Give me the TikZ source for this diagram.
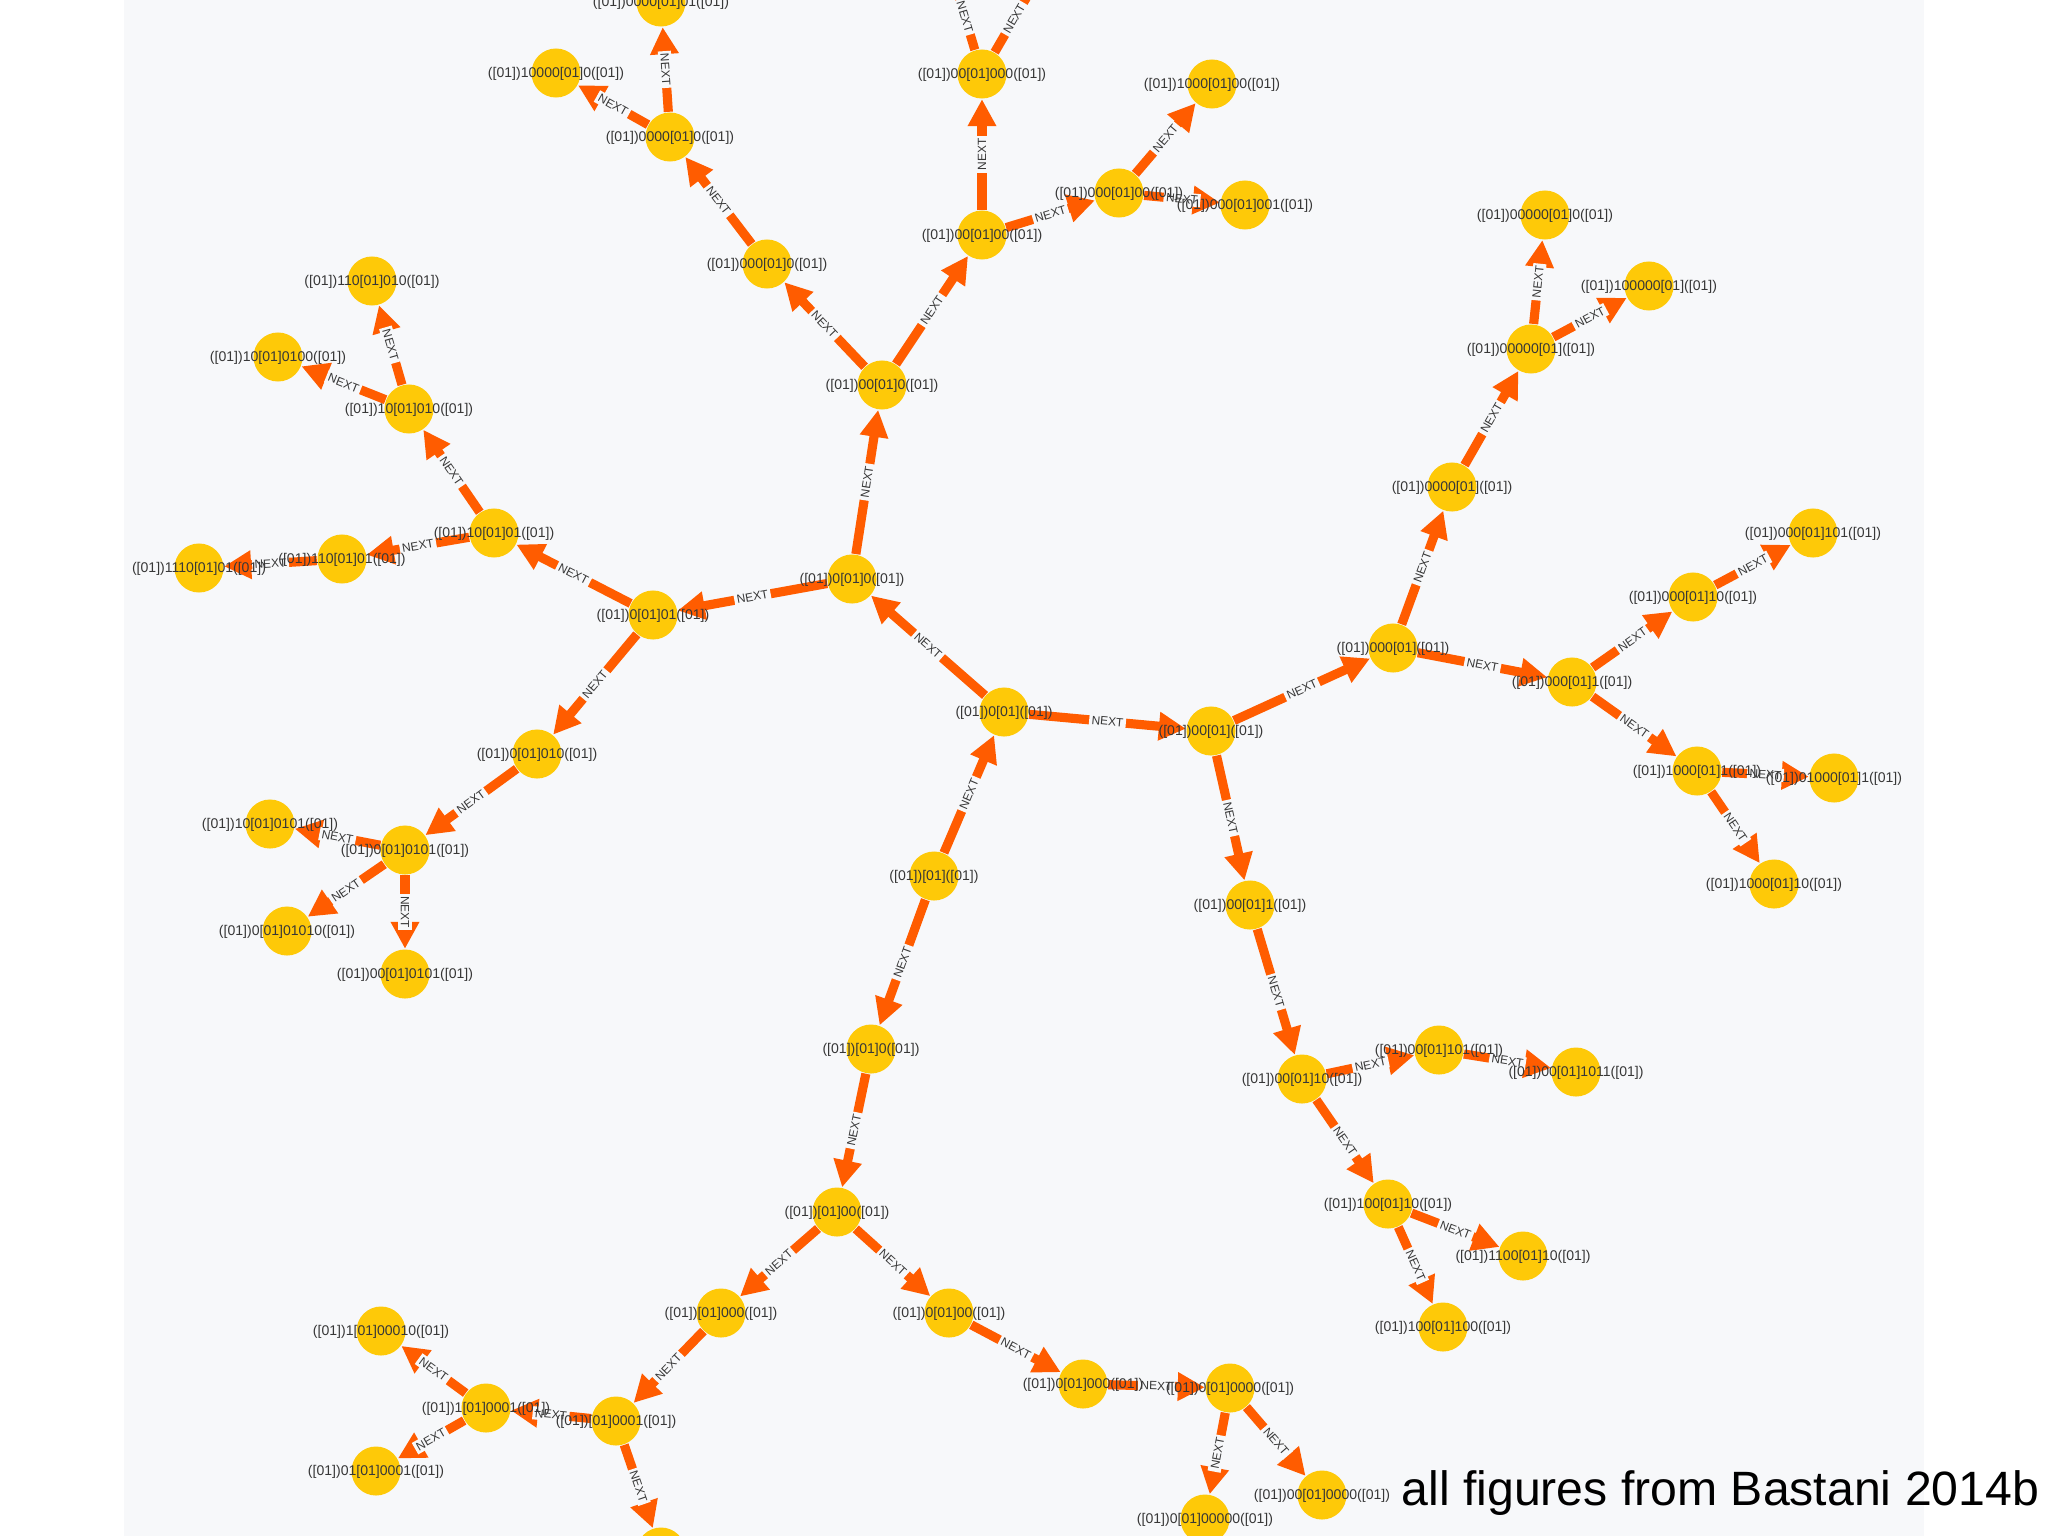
\documentclass[tikz,border=0pt]{standalone}
\usepackage{fontspec}
\setmainfont{Liberation Sans}
\usetikzlibrary{arrows.meta}
\definecolor{panel}{RGB}{247,248,250}
\definecolor{nxtorange}{RGB}{255,92,0}
\definecolor{vtxyellow}{RGB}{254,201,8}
\definecolor{lblgray}{RGB}{55,55,55}
\pgfdeclarelayer{bg}
\pgfsetlayers{bg,main}
\tikzset{
  vtx/.style={circle,fill=vtxyellow,minimum size=0.49cm,inner sep=0pt},
  lbl/.style={font=\fontsize{4}{4.5}\selectfont,text=lblgray,inner sep=0pt,yshift=-0.3pt},
  nx/.style={draw=nxtorange,line width=2.6pt,-{Triangle[length=2.7mm,width=2.7mm]}},
  nxt/.style={sloped,fill=panel,inner sep=0.7pt,font=\fontsize{3.4}{3.8}\selectfont,text=lblgray}
}
\begin{document}
\begin{tikzpicture}[x=0.01cm,y=-0.01cm]
        \useasboundingbox(0,0)rectangle(2048,1536);
        \begin{pgfonlayer}{bg}
        \fill[panel](124,0)rectangle(1924,1536);
        \end{pgfonlayer}
        \node[vtx,label={[lbl]center:{([01])0[01]([01])}}](c) at (1004,712){};
        \node[vtx,label={[lbl]center:{([01])00[01]([01])}}](r1) at (1211,731){};
        \node[vtx,label={[lbl]center:{([01])0[01]0([01])}}](l1) at (852,579){};
        \node[vtx,label={[lbl]center:{([01])[01]([01])}}](d1) at (934,876){};
        \node[vtx,label={[lbl]center:{([01])00[01]0([01])}}](u1) at (882,385){};
        \node[vtx,label={[lbl]center:{([01])00[01]00([01])}}](u2) at (982,235){};
        \node[vtx,label={[lbl]center:{([01])00[01]000([01])}}](u3) at (982,74){};
        \coordinate(u3a) at (942,-60);
        \coordinate(u3b) at (1060,-60);
        \node[vtx,label={[lbl]center:{([01])000[01]00([01])}}](ur1) at (1119,193){};
        \node[vtx,label={[lbl]center:{([01])1000[01]00([01])}}](ur2) at (1212,84){};
        \node[vtx,label={[lbl]center:{([01])000[01]001([01])}}](ur3) at (1245,205){};
        \node[vtx,label={[lbl]center:{([01])000[01]0([01])}}](ul1) at (767,264){};
        \node[vtx,label={[lbl]center:{([01])0000[01]0([01])}}](ul2) at (670,137){};
        \node[vtx,label={[lbl]center:{([01])10000[01]0([01])}}](ul3) at (556,73){};
        \node[vtx,label={[lbl]center:{([01])0000[01]01([01])}}](ul4) at (661,2){};
        \node[vtx,label={[lbl]center:{([01])0[01]01([01])}}](ll1) at (653,615){};
        \node[vtx,label={[lbl]center:{([01])10[01]01([01])}}](ll2) at (494,533){};
        \node[vtx,label={[lbl]center:{([01])10[01]010([01])}}](ll3) at (409,409){};
        \node[vtx,label={[lbl]center:{([01])110[01]010([01])}}](ll4) at (372,281){};
        \node[vtx,label={[lbl]center:{([01])10[01]0100([01])}}](ll5) at (278,357){};
        \node[vtx,label={[lbl]center:{([01])110[01]01([01])}}](ll6) at (342,559){};
        \node[vtx,label={[lbl]center:{([01])1110[01]01([01])}}](ll7) at (199,568){};
        \node[vtx,label={[lbl]center:{([01])0[01]010([01])}}](ll8) at (537,754){};
        \node[vtx,label={[lbl]center:{([01])0[01]0101([01])}}](ll9) at (405,850){};
        \node[vtx,label={[lbl]center:{([01])10[01]0101([01])}}](ll10) at (270,824){};
        \node[vtx,label={[lbl]center:{([01])0[01]01010([01])}}](ll11) at (287,931){};
        \node[vtx,label={[lbl]center:{([01])00[01]0101([01])}}](ll12) at (405,974){};
        \node[vtx,label={[lbl]center:{([01])000[01]([01])}}](ru1) at (1393,648){};
        \node[vtx,label={[lbl]center:{([01])0000[01]([01])}}](ru2) at (1452,487){};
        \node[vtx,label={[lbl]center:{([01])00000[01]([01])}}](ru3) at (1531,349){};
        \node[vtx,label={[lbl]center:{([01])00000[01]0([01])}}](ru4) at (1545,215){};
        \node[vtx,label={[lbl]center:{([01])100000[01]([01])}}](ru5) at (1649,286){};
        \node[vtx,label={[lbl]center:{([01])000[01]1([01])}}](rr1) at (1572,682){};
        \node[vtx,label={[lbl]center:{([01])000[01]10([01])}}](rr2) at (1693,597){};
        \node[vtx,label={[lbl]center:{([01])000[01]101([01])}}](rr3) at (1813,533){};
        \node[vtx,label={[lbl]center:{([01])1000[01]1([01])}}](rr4) at (1697,771){};
        \node[vtx,label={[lbl]center:{([01])01000[01]1([01])}}](rr5) at (1834,778){};
        \node[vtx,label={[lbl]center:{([01])1000[01]10([01])}}](rr6) at (1774,884){};
        \node[vtx,label={[lbl]center:{([01])00[01]1([01])}}](rd1) at (1250,905){};
        \node[vtx,label={[lbl]center:{([01])00[01]10([01])}}](rd2) at (1302,1079){};
        \node[vtx,label={[lbl]center:{([01])00[01]101([01])}}](rd3) at (1439,1050){};
        \node[vtx,label={[lbl]center:{([01])00[01]1011([01])}}](rd4) at (1576,1072){};
        \node[vtx,label={[lbl]center:{([01])100[01]10([01])}}](rd5) at (1388,1204){};
        \node[vtx,label={[lbl]center:{([01])1100[01]10([01])}}](rd6) at (1523,1256){};
        \node[vtx,label={[lbl]center:{([01])100[01]100([01])}}](rd7) at (1443,1327){};
        \node[vtx,label={[lbl]center:{([01])[01]0([01])}}](d2) at (871,1049){};
        \node[vtx,label={[lbl]center:{([01])[01]00([01])}}](d3) at (837,1212){};
        \node[vtx,label={[lbl]center:{([01])[01]000([01])}}](dl1) at (721,1313){};
        \node[vtx,label={[lbl]center:{([01])[01]0001([01])}}](dl2) at (616,1421){};
        \node[vtx,label={[lbl]center:{([01])1[01]0001([01])}}](dl3) at (486,1408){};
        \node[vtx,label={[lbl]center:{([01])1[01]00010([01])}}](dl4) at (381,1331){};
        \node[vtx,label={[lbl]center:{([01])01[01]0001([01])}}](dl5) at (376,1471){};
        \node[vtx](dl6) at (661,1552){};
        \node[vtx,label={[lbl]center:{([01])0[01]00([01])}}](dr1) at (949,1313){};
        \node[vtx,label={[lbl]center:{([01])0[01]000([01])}}](dr2) at (1083,1384){};
        \node[vtx,label={[lbl]center:{([01])0[01]0000([01])}}](dr3) at (1230,1388){};
        \node[vtx,label={[lbl]center:{([01])0[01]00000([01])}}](dr4) at (1205,1519){};
        \node[vtx,label={[lbl]center:{([01])00[01]0000([01])}}](dr5) at (1322,1495){};
        \begin{pgfonlayer}{bg}
        \draw[nx](c)--node[nxt]{NEXT}(r1);
        \draw[nx](c)--node[nxt]{NEXT}(l1);
        \draw[nx](d1)--node[nxt]{NEXT}(c);
        \draw[nx](d1)--node[nxt]{NEXT}(d2);
        \draw[nx](l1)--node[nxt]{NEXT}(u1);
        \draw[nx](l1)--node[nxt]{NEXT}(ll1);
        \draw[nx](u1)--node[nxt]{NEXT}(u2);
        \draw[nx](u1)--node[nxt]{NEXT}(ul1);
        \draw[nx](u2)--node[nxt]{NEXT}(u3);
        \draw[nx](u2)--node[nxt]{NEXT}(ur1);
        \draw[nx](u3)--node[nxt,pos=0.3]{NEXT}(u3a);
        \draw[nx](u3)--node[nxt,pos=0.3]{NEXT}(u3b);
        \draw[nx](ur1)--node[nxt]{NEXT}(ur2);
        \draw[nx](ur1)--node[nxt]{NEXT}(ur3);
        \draw[nx](ul1)--node[nxt]{NEXT}(ul2);
        \draw[nx](ul2)--node[nxt]{NEXT}(ul3);
        \draw[nx](ul2)--node[nxt]{NEXT}(ul4);
        \draw[nx](ll1)--node[nxt]{NEXT}(ll2);
        \draw[nx](ll2)--node[nxt]{NEXT}(ll3);
        \draw[nx](ll3)--node[nxt]{NEXT}(ll4);
        \draw[nx](ll3)--node[nxt]{NEXT}(ll5);
        \draw[nx](ll2)--node[nxt]{NEXT}(ll6);
        \draw[nx](ll6)--node[nxt]{NEXT}(ll7);
        \draw[nx](ll1)--node[nxt]{NEXT}(ll8);
        \draw[nx](ll8)--node[nxt]{NEXT}(ll9);
        \draw[nx](ll9)--node[nxt]{NEXT}(ll10);
        \draw[nx](ll9)--node[nxt]{NEXT}(ll11);
        \draw[nx](ll9)--node[nxt]{NEXT}(ll12);
        \draw[nx](r1)--node[nxt]{NEXT}(ru1);
        \draw[nx](r1)--node[nxt]{NEXT}(rd1);
        \draw[nx](ru1)--node[nxt]{NEXT}(ru2);
        \draw[nx](ru2)--node[nxt]{NEXT}(ru3);
        \draw[nx](ru3)--node[nxt]{NEXT}(ru4);
        \draw[nx](ru3)--node[nxt]{NEXT}(ru5);
        \draw[nx](ru1)--node[nxt]{NEXT}(rr1);
        \draw[nx](rr1)--node[nxt]{NEXT}(rr2);
        \draw[nx](rr2)--node[nxt]{NEXT}(rr3);
        \draw[nx](rr1)--node[nxt]{NEXT}(rr4);
        \draw[nx](rr4)--node[nxt]{NEXT}(rr5);
        \draw[nx](rr4)--node[nxt]{NEXT}(rr6);
        \draw[nx](rd1)--node[nxt]{NEXT}(rd2);
        \draw[nx](rd2)--node[nxt]{NEXT}(rd3);
        \draw[nx](rd3)--node[nxt]{NEXT}(rd4);
        \draw[nx](rd2)--node[nxt]{NEXT}(rd5);
        \draw[nx](rd5)--node[nxt]{NEXT}(rd6);
        \draw[nx](rd5)--node[nxt]{NEXT}(rd7);
        \draw[nx](d2)--node[nxt]{NEXT}(d3);
        \draw[nx](d3)--node[nxt]{NEXT}(dl1);
        \draw[nx](dl1)--node[nxt]{NEXT}(dl2);
        \draw[nx](dl2)--node[nxt]{NEXT}(dl3);
        \draw[nx](dl3)--node[nxt]{NEXT}(dl4);
        \draw[nx](dl3)--node[nxt]{NEXT}(dl5);
        \draw[nx](dl2)--node[nxt]{NEXT}(dl6);
        \draw[nx](d3)--node[nxt]{NEXT}(dr1);
        \draw[nx](dr1)--node[nxt]{NEXT}(dr2);
        \draw[nx](dr2)--node[nxt]{NEXT}(dr3);
        \draw[nx](dr3)--node[nxt]{NEXT}(dr4);
        \draw[nx](dr3)--node[nxt]{NEXT}(dr5);
        \end{pgfonlayer}
        \node[anchor=base west,inner sep=0pt,font=\fontsize{13.7}{16}\selectfont](src) at (1401,1505){all figures from Bastani 2014b};
\end{tikzpicture}
\end{document}
